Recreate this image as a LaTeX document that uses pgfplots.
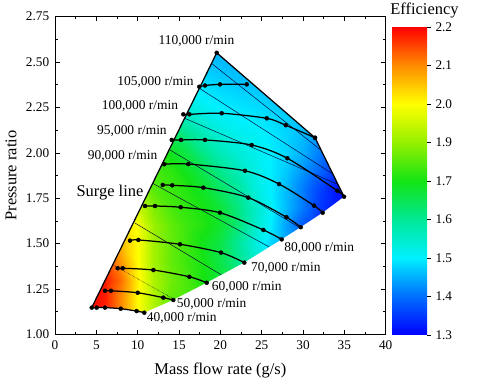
\documentclass[border=0pt]{standalone}
\usepackage{fontspec}
\setmainfont{Liberation Serif}
\usepackage{pgfplots}
\usepackage{pgfplotstable}
\pgfplotsset{compat=1.18}
\pgfplotstableread{
x y v
4 1.1 8.0
6 1.1 7.8
8 1.1 7.0
10 1.1 6.0
12 1.1 5.2
14 1.1 4.6
16 1.1 4.4
18 1.1 4.2
20 1.1 4.0
22 1.1 3.8
24 1.1 3.5
26 1.1 3.2
28 1.1 2.9
30 1.1 2.6
32 1.1 2.3
34 1.1 2.0
36 1.1 1.8
4 1.2 8.0
6 1.2 7.8
8 1.2 7.0
10 1.2 6.0
12 1.2 5.2
14 1.2 4.6
16 1.2 4.4
18 1.2 4.2
20 1.2 4.0
22 1.2 3.7
24 1.2 3.3
26 1.2 3.0
28 1.2 2.6
30 1.2 2.2
32 1.2 1.8
34 1.2 1.5
36 1.2 1.2
4 1.3 8.0
6 1.3 7.8
8 1.3 7.2
10 1.3 6.1
12 1.3 5.2
14 1.3 4.7
16 1.3 4.4
18 1.3 4.0
20 1.3 3.7
22 1.3 3.3
24 1.3 2.9
26 1.3 2.5
28 1.3 2.1
30 1.3 1.7
32 1.3 1.3
34 1.3 1.0
36 1.3 0.8
4 1.4 7.9
6 1.4 7.5
8 1.4 6.9
10 1.4 6.0
12 1.4 5.1
14 1.4 4.6
16 1.4 4.3
18 1.4 4.0
20 1.4 3.6
22 1.4 3.1
24 1.4 2.6
26 1.4 2.1
28 1.4 1.6
30 1.4 1.2
32 1.4 0.8
34 1.4 0.5
36 1.4 0.4
4 1.5 7.7
6 1.5 7.2
8 1.5 6.6
10 1.5 6.0
12 1.5 5.1
14 1.5 4.6
16 1.5 4.3
18 1.5 3.9
20 1.5 3.6
22 1.5 3.0
24 1.5 2.4
26 1.5 1.8
28 1.5 1.4
30 1.5 1.0
32 1.5 0.6
34 1.5 0.4
36 1.5 0.3
4 1.6 7.5
6 1.6 7.0
8 1.6 6.4
10 1.6 5.9
12 1.6 5.0
14 1.6 4.6
16 1.6 4.3
18 1.6 4.1
20 1.6 3.8
22 1.6 3.3
24 1.6 2.6
26 1.6 2.0
28 1.6 1.4
30 1.6 0.8
32 1.6 0.4
34 1.6 0.3
36 1.6 0.2
4 1.7 7.0
6 1.7 6.5
8 1.7 6.0
10 1.7 5.5
12 1.7 4.8
14 1.7 4.4
16 1.7 4.2
18 1.7 4.0
20 1.7 3.7
22 1.7 3.2
24 1.7 2.6
26 1.7 2.1
28 1.7 1.6
30 1.7 1.1
32 1.7 0.5
34 1.7 0.2
36 1.7 0.1
4 1.8 6.5
6 1.8 6.0
8 1.8 5.5
10 1.8 5.0
12 1.8 4.5
14 1.8 4.3
16 1.8 4.1
18 1.8 3.8
20 1.8 3.4
22 1.8 3.0
24 1.8 2.4
26 1.8 2.0
28 1.8 1.6
30 1.8 1.1
32 1.8 0.6
34 1.8 0.2
36 1.8 0.1
4 1.9 6.0
6 1.9 5.5
8 1.9 5.0
10 1.9 4.7
12 1.9 4.4
14 1.9 4.2
16 1.9 3.9
18 1.9 3.5
20 1.9 3.1
22 1.9 2.7
24 1.9 2.3
26 1.9 2.0
28 1.9 1.7
30 1.9 1.3
32 1.9 0.9
34 1.9 0.5
36 1.9 0.3
4 2.0 5.5
6 2.0 5.0
8 2.0 4.7
10 2.0 4.4
12 2.0 4.2
14 2.0 3.9
16 2.0 3.6
18 2.0 3.1
20 2.0 2.7
22 2.0 2.4
24 2.0 2.2
26 2.0 2.0
28 2.0 1.8
30 2.0 1.5
32 2.0 1.1
34 2.0 0.7
36 2.0 0.5
4 2.1 5.0
6 2.1 4.6
8 2.1 4.3
10 2.1 4.0
12 2.1 3.8
14 2.1 3.5
16 2.1 3.1
18 2.1 2.7
20 2.1 2.4
22 2.1 2.2
24 2.1 2.1
26 2.1 1.95
28 2.1 1.8
30 2.1 1.6
32 2.1 1.3
34 2.1 1.0
36 2.1 0.8
4 2.2 4.4
6 2.2 4.0
8 2.2 3.7
10 2.2 3.4
12 2.2 3.2
14 2.2 2.9
16 2.2 2.6
18 2.2 2.3
20 2.2 2.1
22 2.2 2.0
24 2.2 1.95
26 2.2 1.85
28 2.2 1.75
30 2.2 1.6
32 2.2 1.4
34 2.2 1.2
36 2.2 1.0
4 2.3 3.8
6 2.3 3.4
8 2.3 3.1
10 2.3 2.9
12 2.3 2.6
14 2.3 2.4
16 2.3 2.2
18 2.3 2.0
20 2.3 1.9
22 2.3 1.85
24 2.3 1.8
26 2.3 1.7
28 2.3 1.6
30 2.3 1.5
32 2.3 1.4
34 2.3 1.3
36 2.3 1.2
4 2.4 3.0
6 2.4 2.8
8 2.4 2.6
10 2.4 2.4
12 2.4 2.2
14 2.4 2.1
16 2.4 2.0
18 2.4 1.85
20 2.4 1.75
22 2.4 1.65
24 2.4 1.6
26 2.4 1.55
28 2.4 1.5
30 2.4 1.45
32 2.4 1.4
34 2.4 1.3
36 2.4 1.2
4 2.5 2.4
6 2.5 2.2
8 2.5 2.0
10 2.5 1.9
12 2.5 1.8
14 2.5 1.75
16 2.5 1.7
18 2.5 1.65
20 2.5 1.6
22 2.5 1.55
24 2.5 1.5
26 2.5 1.45
28 2.5 1.4
30 2.5 1.4
32 2.5 1.3
34 2.5 1.3
36 2.5 1.2
4 2.6 2.0
6 2.6 1.9
8 2.6 1.8
10 2.6 1.7
12 2.6 1.65
14 2.6 1.6
16 2.6 1.6
18 2.6 1.55
20 2.6 1.5
22 2.6 1.5
24 2.6 1.45
26 2.6 1.4
28 2.6 1.4
30 2.6 1.3
32 2.6 1.3
34 2.6 1.2
36 2.6 1.2
}\effgrid
\begin{document}
\begin{tikzpicture}[x=1bp,y=1bp]
\path[use as bounding box] (-55,-48.7) rectangle (445,334.3);
\begin{axis}[
  at={(0,0)}, anchor=south west,
  scale only axis, width=330.7bp, height=317.6bp,
  xmin=0, xmax=40, ymin=1, ymax=2.75,
  xtick={0,5,...,40}, ytick={1,1.25,1.5,1.75,2,2.25,2.5,2.75},
  minor x tick num=1, minor y tick num=1,
  tick align=inside, major tick length=4.5bp, minor tick length=2.8bp,
  every tick/.style={black, line width=0.6bp},
  axis line style={black, line width=0.8bp},
  axis on top,
  /pgf/number format/assume math mode=true,
  tick label style={font=\fontsize{13.3}{15}\selectfont},
  yticklabel style={/pgf/number format/fixed, /pgf/number format/fixed zerofill, /pgf/number format/precision=2, xshift=-2.3bp},
  xticklabel style={yshift=-3bp},
  xlabel={Mass flow rate (g/s)},
  xlabel style={font=\fontsize{16.5}{18}\selectfont, at={(axis description cs:0.5,-0.09)}, anchor=north, inner sep=0pt},
  ylabel={Pressure ratio},
  ylabel style={font=\fontsize{16.5}{18}\selectfont, at={(axis description cs:-0.133,0.5)}, anchor=center, inner sep=0pt},
  colormap={eff}{rgb255(0cm)=(0,0,255); rgb255(1cm)=(0,110,255); rgb255(2cm)=(0,240,255); rgb255(3cm)=(0,232,150); rgb255(4cm)=(20,228,20); rgb255(5cm)=(150,240,0); rgb255(6cm)=(255,255,0); rgb255(7cm)=(255,140,0); rgb255(8cm)=(255,0,0)},
  point meta min=0, point meta max=8,
  colorbar,
  colorbar/width=35bp,
  colorbar shift/.style={xshift=6.3bp},
  colorbar style={
    at={(parent axis.north east)}, anchor=north west, yshift=-10.3bp,
    scale only axis, width=35bp, height=308bp,
    ytick={0,1,2,3,4,5,6,7,8},
    yticklabels={1.3,1.4,1.5,1.6,1.7,1.9,2.0,2.1,2.2},
    ytick pos=right, yticklabel pos=right,
    tick align=outside, major tick length=4bp,
    every tick/.style={black, line width=0.6bp},
    axis line style={draw=none},
    /pgf/number format/assume math mode=true,
    yticklabel style={font=\fontsize{13.3}{15}\selectfont, xshift=1bp},
    title={Efficiency},
    title style={at={(0.5,1)}, anchor=south, inner sep=0pt, xshift=15bp, yshift=3bp, font=\fontsize{16.5}{18}\selectfont},
  },
]
\addplot[surf, shader=interp, mesh/rows=16, mesh/cols=17, point meta=explicit] table[x=x, y=y, meta=v] {\effgrid};
\addplot[fill=white, draw=none, even odd rule] coordinates {
(-2,0.8) (42,0.8) (42,3) (-2,3) (-2,0.8) (4.44,1.147) (19.56,2.551) (31.45,2.083) (34.96,1.758) (32.38,1.670) (29.72,1.590) (27.42,1.523) (22.9,1.395) (18.35,1.284) (14.31,1.189) (10.80,1.119) (9.88,1.128) (7.95,1.141) (6.05,1.147) (4.44,1.147) (-2,0.8)};
% thin efficiency contour lines
\addplot[no marks, black!80!blue, line width=0.45bp] coordinates {(18.87,2.495) (32.30,2.010)};
\addplot[no marks, black!80!blue, line width=0.45bp] coordinates {(17.42,2.357) (33.62,1.883)};
\addplot[no marks, black!80!blue, line width=0.45bp] coordinates {(15.60,2.192) (34.23,1.826)};
\addplot[no marks, black!80!blue, line width=0.45bp] coordinates {(13.79,2.019) (29.64,1.587)};
\addplot[no marks, black!80!blue, line width=0.45bp] coordinates {(11.73,1.834) (25.89,1.482)};
\addplot[no marks, black!80!blue, line width=0.45bp] coordinates {(9.68,1.613) (20.14,1.327)};
\addplot[no marks, black!80!blue, line width=0.45bp, densely dotted] coordinates {(7.02,1.382) (14.46,1.192)};
\pgfplotsset{every axis plot/.append style={black, line width=1.25bp, mark options={line width=0.4bp}}}
\addplot[smooth, mark=*, mark size=2bp] coordinates {(4.44,1.147) (5.04,1.147) (6.05,1.147) (7.95,1.141) (9.88,1.128) (10.80,1.119)};
\addplot[smooth, mark=*, mark size=2bp] coordinates {(6.05,1.240) (6.77,1.240) (10.0,1.229) (13.1,1.202) (14.31,1.189)};
\addplot[smooth, mark=*, mark size=2bp] coordinates {(7.58,1.364) (8.19,1.364) (11.9,1.354) (16.25,1.317) (18.35,1.284)};
\addplot[smooth, mark=*, mark size=2bp] coordinates {(9.07,1.516) (10.08,1.520) (15.12,1.496) (20.08,1.450) (22.9,1.395)};
\addplot[smooth, mark=*, mark size=2bp] coordinates {(10.89,1.707) (12.10,1.707) (15.2,1.700) (19.96,1.670) (25.2,1.575) (27.42,1.523)};
\addplot[smooth, mark=*, mark size=2bp] coordinates {(13.03,1.823) (14.19,1.821) (17.94,1.808) (23.38,1.753) (28.0,1.645) (29.72,1.590)};
\addplot[smooth, mark=*, mark size=2bp] coordinates {(13.22,1.937) (16.12,1.938) (22.98,1.901) (27.1,1.828) (31.33,1.709) (32.38,1.670)};
\addplot[smooth, mark=*, mark size=2bp] coordinates {(14.12,2.071) (15.24,2.071) (18.14,2.071) (23.79,2.043) (28.1,1.970) (34.15,1.791) (34.96,1.758)};
\addplot[smooth, mark=*, mark size=2bp] coordinates {(15.52,2.212) (16.25,2.212) (20.16,2.218) (25.61,2.190) (27.91,2.152) (31.45,2.083)};
\addplot[smooth, mark=*, mark size=2bp] coordinates {(17.45,2.364) (18.14,2.371) (19.96,2.377) (23.19,2.377)};
\addplot[mark=*, mark size=2bp] coordinates {(19.56,2.551) (31.45,2.083)};
\addplot[no marks] coordinates {(31.45,2.083) (34.96,1.758)};
\addplot[no marks] coordinates {(4.44,1.147) (19.56,2.551)};
\begin{scope}[font=\fontsize{13.5}{15}\selectfont]
\node at (axis cs:17.12,2.618) {110,000 r/min};
\node at (axis cs:12.16,2.388) {105,000 r/min};
\node at (axis cs:10.28,2.258) {100,000 r/min};
\node at (axis cs:9.31,2.120) {95,000 r/min};
\node at (axis cs:8.17,1.982) {90,000 r/min};
\node at (axis cs:31.96,1.474) {80,000 r/min};
\node at (axis cs:27.92,1.367) {70,000 r/min};
\node at (axis cs:23.19,1.262) {60,000 r/min};
\node at (axis cs:18.95,1.165) {50,000 r/min};
\node at (axis cs:15.33,1.091) {40,000 r/min};
\end{scope}
\node[font=\fontsize{16.5}{18}\selectfont] at (axis cs:6.65,1.779) {Surge line};
\end{axis}
\end{tikzpicture}
\end{document}
